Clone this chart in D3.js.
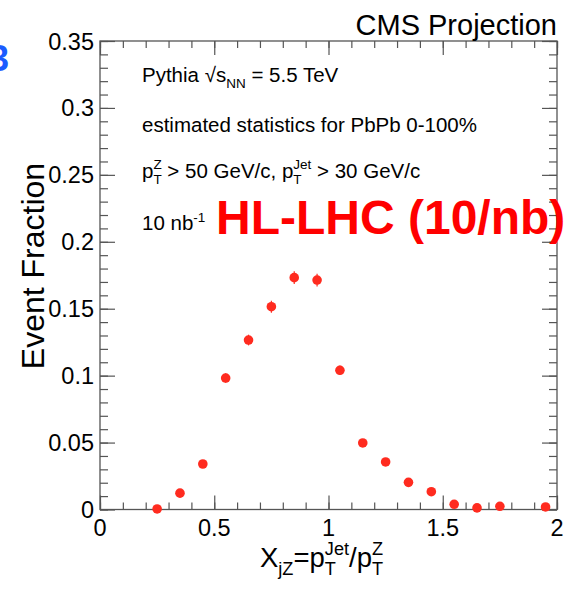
<!DOCTYPE html>
<html lang="en">
<head>
	<meta charset="UTF-8">
	<title>Xjz projection</title>
	<script src="https://cdn.jsdelivr.net/npm/d3@7"></script>
	<style>
		body { margin: 0; background: white; }
		text { font-family: "Liberation Sans", Arial, Helvetica, sans-serif; white-space: pre; }
	</style>
</head>
<body>
	<div id="vis"></div>

	<script>
		var width = 568;
		var height = 591;

		// bin centres and event fractions
		var xjzBins = [0.25, 0.35, 0.45, 0.55, 0.65, 0.75, 0.85, 0.95, 1.05, 1.15, 1.25, 1.35, 1.45, 1.55, 1.65, 1.75, 1.95];
		var eventFraction = [0.0004, 0.0122, 0.034, 0.0982, 0.1266, 0.1515, 0.1732, 0.1714, 0.104, 0.0497, 0.0355, 0.0203, 0.0133, 0.0039, 0.0012, 0.0024, 0.0019];
		var fractionErr = [0.0006, 0.0015, 0.002, 0.0035, 0.004, 0.0045, 0.0048, 0.0048, 0.0035, 0.0025, 0.002, 0.0016, 0.0013, 0.0008, 0.0005, 0.0006, 0.0006];

		var xMajor = [0, 0.5, 1, 1.5, 2];
		var xTickLabels = ["0", "0.5", "1", "1.5", "2"];
		var yMajor = [0, 0.05, 0.1, 0.15, 0.2, 0.25, 0.3, 0.35];
		var yTickLabels = ["0", "0.05", "0.1", "0.15", "0.2", "0.25", "0.3", "0.35"];

		var frame = {left: 100, right: 557, top: 41, bottom: 509.5};

		var svg = d3.select("#vis").append("svg")
				.attr("width", width)
				.attr("height", height);

		var x = d3.scaleLinear().domain([0, 2]).range([frame.left, frame.right]);
		var y = d3.scaleLinear().domain([0, 0.35]).range([frame.bottom, frame.top]);

		var xMinor = d3.range(0, 21).map(function(i) { return i / 10; });
		var yMinor = d3.range(0, 36).map(function(i) { return i / 100; });

		// draws a run of text pieces, with ROOT-like stacked super/subscripts
		function richText(g, x0, y0, size, parts, color, weight) {
			var cx = x0;
			parts.forEach(function(p) {
				if (p.sup !== undefined || p.sub !== undefined) {
					var w = 0;
					if (p.sup) {
						var t1 = g.append("text").attr("x", cx).attr("y", y0 - size * (p.supShift || 0.42))
							.attr("font-size", size * 0.66).attr("fill", color).text(p.sup);
						w = Math.max(w, t1.node().getComputedTextLength());
					}
					if (p.sub) {
						var t2 = g.append("text").attr("x", cx).attr("y", y0 + size * 0.3)
							.attr("font-size", size * 0.66).attr("fill", color).text(p.sub);
						w = Math.max(w, t2.node().getComputedTextLength());
					}
					cx += w + (p.gap || 0);
				} else {
					var t = g.append("text").attr("x", cx).attr("y", y0)
						.attr("font-size", size).attr("fill", color)
						.attr("font-weight", weight || "normal")
						.text(p.t);
					cx += t.node().getComputedTextLength();
				}
			});
			return cx;
		}

		// axes with inward ticks (ROOT style)
		var axisColor = "#555";
		function drawAxis(axis, tx, ty) {
			var g = svg.append("g").attr("transform", "translate(" + tx + "," + ty + ")").call(axis);
			g.selectAll(".domain").remove();
			g.selectAll("line").attr("stroke", axisColor).attr("stroke-width", 1.2);
			return g;
		}

		drawAxis(d3.axisBottom(x).tickValues(xMinor).tickSize(-7).tickFormat(""), 0, frame.bottom);
		drawAxis(d3.axisBottom(x).tickValues(xMajor).tickSize(-14).tickFormat(""), 0, frame.bottom);
		drawAxis(d3.axisTop(x).tickValues(xMinor).tickSize(-7).tickFormat(""), 0, frame.top);
		drawAxis(d3.axisTop(x).tickValues(xMajor).tickSize(-14).tickFormat(""), 0, frame.top);
		drawAxis(d3.axisLeft(y).tickValues(yMinor).tickSize(-8).tickFormat(""), frame.left, 0);
		drawAxis(d3.axisLeft(y).tickValues(yMajor).tickSize(-15).tickFormat(""), frame.left, 0);
		drawAxis(d3.axisRight(y).tickValues(yMinor).tickSize(-8).tickFormat(""), frame.right, 0);
		drawAxis(d3.axisRight(y).tickValues(yMajor).tickSize(-15).tickFormat(""), frame.right, 0);

		svg.append("rect")
			.attr("x", frame.left).attr("y", frame.top)
			.attr("width", frame.right - frame.left).attr("height", frame.bottom - frame.top)
			.attr("fill", "none").attr("stroke", axisColor).attr("stroke-width", 1.3);

		// tick labels
		svg.selectAll(".xlab").data(xMajor).enter().append("text")
			.attr("x", function(d) { return x(d); })
			.attr("y", 536)
			.attr("text-anchor", "middle")
			.attr("font-size", 23.5)
			.text(function(d, i) { return xTickLabels[i]; });

		svg.selectAll(".ylab").data(yMajor).enter().append("text")
			.attr("x", 94)
			.attr("y", function(d) { return y(d) + 8.5; })
			.attr("text-anchor", "end")
			.attr("font-size", 23.5)
			.text(function(d, i) { return yTickLabels[i]; });

		// axis titles
		svg.append("text")
			.attr("transform", "translate(44,266) rotate(-90)")
			.attr("text-anchor", "middle")
			.attr("font-size", 32)
			.text("Event Fraction");

		var xt = svg.append("g");
		richText(xt, 260, 567, 27.5, [
			{t: "X"}, {sub: "jZ"}, {t: "=p"}, {sup: "Jet", sub: "T"}, {t: "/p"}, {sup: "Z", sub: "T"}
		], "black");

		// header
		svg.append("text")
			.attr("x", 557).attr("y", 35)
			.attr("text-anchor", "end")
			.attr("font-size", 29)
			.text("CMS Projection");

		svg.append("text")
			.attr("x", 9).attr("y", 71)
			.attr("text-anchor", "end")
			.attr("font-size", 36)
			.attr("font-weight", "bold")
			.attr("fill", "#1a5cff")
			.text("3");

		// annotations
		var ann = svg.append("g");
		var fs = 20.5;
		richText(ann, 142, 82, fs, [
			{t: "Pythia "}, {t: "\u221As"}, {sub: "NN"}, {t: " = 5.5 TeV"}
		], "black");
		richText(ann, 142, 132, fs, [{t: "estimated statistics for PbPb 0-100%"}], "black");
		richText(ann, 142, 178, fs, [
			{t: "p"}, {sup: "Z", sub: "T"}, {t: " > 50 GeV/c, p"}, {sup: "Jet", sub: "T"}, {t: " > 30 GeV/c"}
		], "black");
		richText(ann, 142, 230, fs, [{t: "10 nb"}, {sup: "-1", supShift: 0.38}], "black");

		svg.append("text")
			.attr("x", 216).attr("y", 234)
			.attr("font-size", 48)
			.attr("font-weight", "bold")
			.attr("fill", "#ff0000")
			.text("HL-LHC (10/nb)");

		// data points with error bars
		var pts = svg.append("g");
		pts.selectAll("line").data(xjzBins).enter().append("line")
			.attr("x1", function(d) { return x(d); })
			.attr("x2", function(d) { return x(d); })
			.attr("y1", function(d, i) { return y(eventFraction[i] - fractionErr[i]); })
			.attr("y2", function(d, i) { return y(eventFraction[i] + fractionErr[i]); })
			.attr("stroke", "#ff2b1f")
			.attr("stroke-width", 1.2);

		pts.selectAll("circle").data(xjzBins).enter().append("circle")
			.attr("cx", function(d) { return x(d); })
			.attr("cy", function(d, i) { return y(eventFraction[i]); })
			.attr("r", 4.8)
			.attr("fill", "#ff2b1f");
	</script>
</body>
</html>
